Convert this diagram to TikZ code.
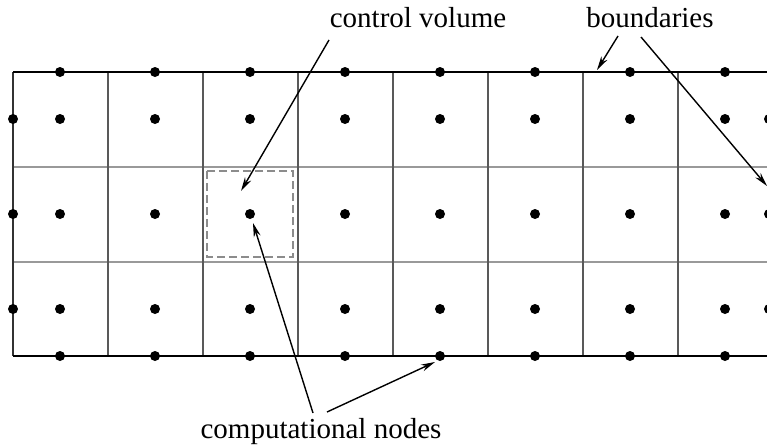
\documentclass[tikz,border=0pt]{standalone}
\usepackage{fontspec}
\setmainfont{Liberation Serif}
\usetikzlibrary{arrows.meta}
\begin{document}
\begin{tikzpicture}[x=1pt,y=-1pt,
  dot/.style={circle,fill=black,inner sep=0pt,minimum size=10pt},
  lbl/.style={font=\fontsize{29}{34}\selectfont,inner sep=0pt,anchor=base},
  arr/.style={-{Stealth[length=14pt,width=7pt]},line width=1.4pt},
  bnd/.style={line width=2.4pt,draw=black},
  vline/.style={line width=1.1pt,draw=black!65},
  hline/.style={line width=1.1pt,draw=black!40},
  cvbox/.style={draw=black!45,line width=1.4pt,dash pattern=on 8pt off 4pt}]
\useasboundingbox (0,0) rectangle (767,447);
\begin{scope}
\clip (0,0) rectangle (767,447);
% interior horizontal lines
\foreach \y in {167,262} \draw[hline] (13,\y) -- (780,\y);
% vertical lines
\foreach \k in {1,...,7} \draw[vline] ({13+95*\k},72) -- ({13+95*\k},356);
\draw[line width=1.2pt,draw=black!80] (13,72) -- (13,356);
% boundaries
\draw[bnd] (13,72) -- (780,72);
\draw[bnd] (13,356) -- (780,356);
% control volume
\draw[cvbox] (207,171) rectangle (293,257);
% dots
\foreach \i in {0,...,7} {
  \foreach \y/\n in {72/0,119/1,214/2,309/3,356/4}
    \node[dot] (d-\i-\n) at ({60+95*\i},\y) {};
}
\foreach \y/\n in {119/1,214/2,309/3} {
  \node[dot] (l-\n) at (13,\y) {};
  \node[dot] (r-\n) at (769,\y) {};
}
\end{scope}
% labels
\node[lbl] (cv) at (418,27) {control volume};
\node[lbl] (bd) at (650,27) {boundaries};
\node[lbl] (cn) at (321,438) {computational nodes};
% arrow ends
\coordinate (cvs) at (329,40);
\coordinate (cve) at (241,191);
\coordinate (b1s) at (618,36);
\coordinate (b1e) at (597,70);
\coordinate (b2s) at (641,37);
\coordinate (b2e) at (767,186);
\coordinate (c1s) at (313,413);
\coordinate (c1e) at (253,223);
\coordinate (c2s) at (327,412);
\coordinate (c2e) at (435,362);
\draw[arr] (cvs) -- (cve);
\draw[arr] (b1s) -- (b1e);
\draw[arr] (b2s) -- (b2e);
\draw[arr] (c1s) -- (c1e);
\draw[arr] (c2s) -- (c2e);
\end{tikzpicture}
\end{document}
